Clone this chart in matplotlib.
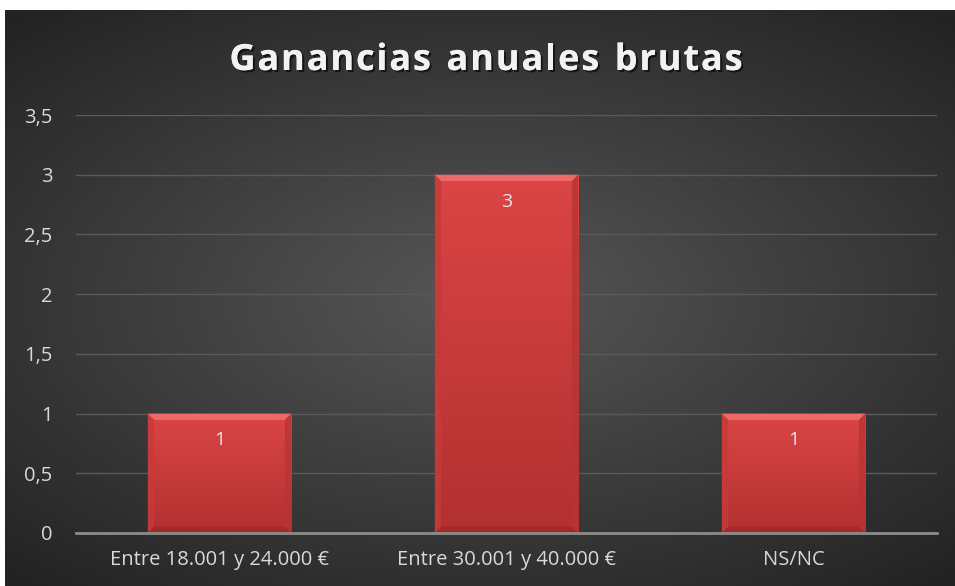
import numpy as np
import matplotlib.pyplot as plt
import matplotlib.patheffects as pe
from matplotlib.patches import Polygon

categories = ["Entre 18.001 y 24.000 €", "Entre 30.001 y 40.000 €", "NS/NC"]
values = [1, 3, 1]
yticks = [0, 0.5, 1, 1.5, 2, 2.5, 3, 3.5]
ytick_labels = ["0", "0,5", "1", "1,5", "2", "2,5", "3", "3,5"]
title = "Ganancias anuales brutas"

plt.rcParams['font.family'] = ['Open Sans', 'DejaVu Sans']

W, H = 955, 586
fig = plt.figure(figsize=(W / 100, H / 100), dpi=100)
fig.patch.set_facecolor("white")

# dark radial gradient background
bg = fig.add_axes([5 / W, 0, 950 / W, 576 / H])
yy, xx = np.mgrid[-1:1:300j, -1:1:500j]
r = np.sqrt((xx * 0.9) ** 2 + (yy * 1.0) ** 2)
shade = 0.34 - 0.2 * np.clip(r / 1.3, 0, 1)
img = np.dstack([shade, shade, shade])
bg.imshow(img, aspect="auto", extent=[0, 1, 0, 1], interpolation="bilinear")
bg.set_axis_off()

ax = fig.add_axes([76 / W, (H - 533) / H, (937 - 76) / W, (533 - 115) / H])
ax.set_facecolor("none")
x = np.arange(len(categories))
bw = 0.5
bars = ax.bar(x, values, width=bw, color="#d44040", zorder=3,
              edgecolor="#3a1a1a", linewidth=0.8)

# bevel and gradient on each bar
for b in bars:
    x0, w, h = b.get_x(), b.get_width(), b.get_height()
    grad = np.linspace(0, 1, 100)[:, None]
    top = np.array([0.86, 0.27, 0.27])
    bot = np.array([0.70, 0.19, 0.19])
    g = top[None, None, :] * (1 - grad[..., None]) + bot[None, None, :] * grad[..., None]
    im = ax.imshow(g, extent=[x0, x0 + w, 0, h], aspect="auto", zorder=3.5,
                   interpolation="bilinear")
    im.set_clip_path(b)
    dx = 0.022
    dy = dx * (287 / 119.4)
    ax.add_patch(Polygon([[x0, h], [x0 + w, h], [x0 + w - dx, h - dy], [x0 + dx, h - dy]],
                         closed=True, color="#ec6a6a", lw=0, zorder=4))
    ax.add_patch(Polygon([[x0, 0], [x0 + w, 0], [x0 + w - dx, dy], [x0 + dx, dy]],
                         closed=True, color="#a42a2a", lw=0, zorder=4))
    ax.add_patch(Polygon([[x0, 0], [x0, h], [x0 + dx, h - dy], [x0 + dx, dy]],
                         closed=True, color="#c63a3a", alpha=0.8, lw=0, zorder=4))
    ax.add_patch(Polygon([[x0 + w, 0], [x0 + w, h], [x0 + w - dx, h - dy], [x0 + w - dx, dy]],
                         closed=True, color="#b83434", alpha=0.8, lw=0, zorder=4))
    ax.text(x0 + w / 2, h - 0.225, str(int(h)), ha="center", va="center",
            color="#e6e6e6", fontsize=14, zorder=5)

ax.set_xlim(-0.5, 2.5)
ax.set_ylim(0, 3.5)
ax.set_yticks(yticks)
ax.set_yticklabels(ytick_labels)
ax.set_xticks(x)
ax.set_xticklabels(categories)
ax.tick_params(axis="both", length=0, colors="#d9d9d9", labelsize=14.5)
ax.tick_params(axis="y", pad=17)
ax.tick_params(axis="x", pad=12)
ax.grid(axis="y", color="#5a5a5a", linewidth=1, zorder=0)
for s in ["top", "right", "left"]:
    ax.spines[s].set_visible(False)
ax.spines["bottom"].set_color("#8c8c8c")
ax.spines["bottom"].set_linewidth(2)
ax.spines["bottom"].set_zorder(6)

# letter-spaced title
fig.canvas.draw()
renderer = fig.canvas.get_renderer()
tkw = dict(fontsize=26, fontweight="bold", color="#f2f2f2",
           path_effects=[pe.withSimplePatchShadow(offset=(1.5, -1.5), shadow_rgbFace="black", alpha=0.6),
                         pe.Normal()])
spacing = 1.8
widths = []
for ch in title:
    t = fig.text(0, 0, ch if ch != " " else "a", **tkw)
    widths.append(t.get_window_extent(renderer).width * (0.55 if ch == " " else 1))
    t.remove()
total = sum(widths) + spacing * (len(title) - 1)
cx = 486
xpos = cx - total / 2
for ch, wd in zip(title, widths):
    if ch != " ":
        fig.text(xpos / W, 1 - 70 / H, ch, va="baseline", ha="left", **tkw)
    xpos += wd + spacing

fig.savefig("out.png", dpi=100, facecolor=fig.get_facecolor())
